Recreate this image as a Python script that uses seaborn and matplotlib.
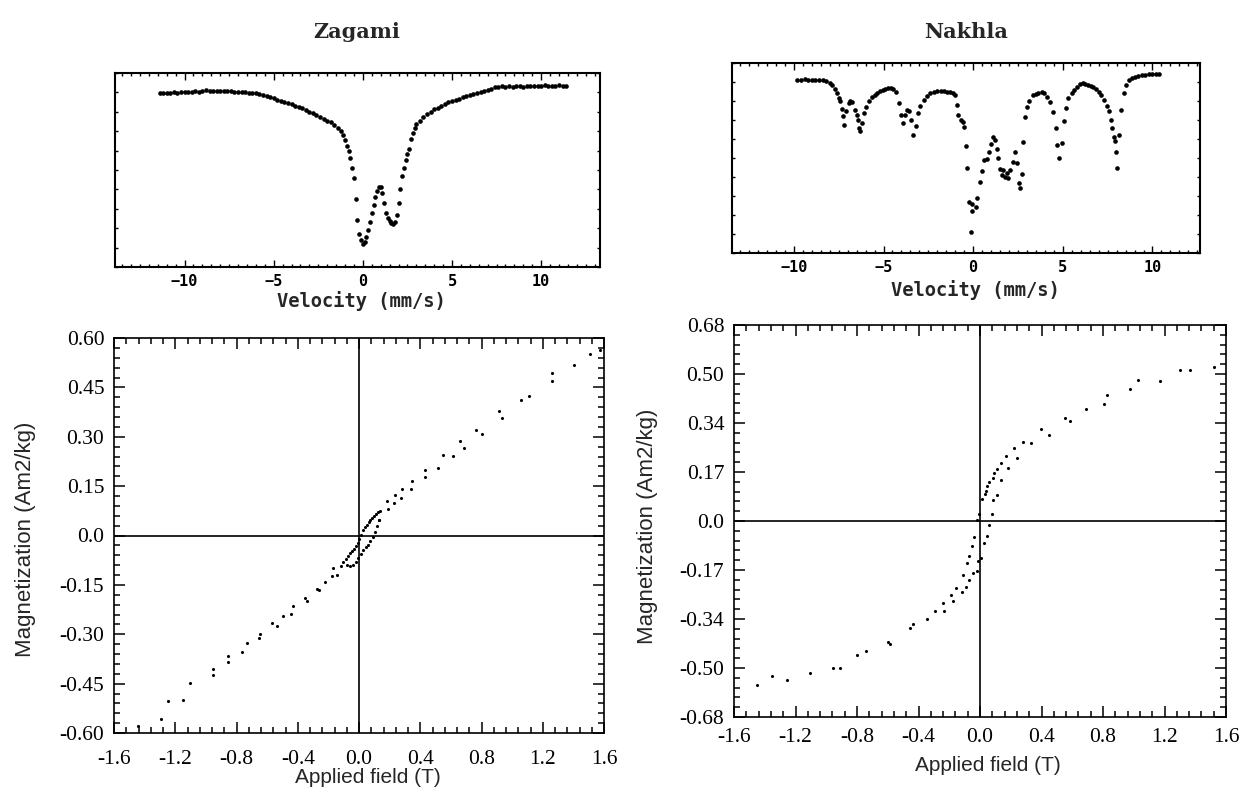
import numpy as np
import pandas as pd
import matplotlib
matplotlib.use("Agg")
import matplotlib.pyplot as plt
import seaborn as sns
from matplotlib.ticker import MultipleLocator, AutoMinorLocator, FixedLocator, FixedFormatter

# Mossbauer spectra (velocity mm/s, relative transmission in % of panel height)
zagami_spectrum = [
    (-11.4, 89.5), (-11.2, 89.8), (-11.0, 89.6), (-10.8, 89.9), (-10.6, 90.0), (-10.4, 89.7),
    (-10.2, 90.1), (-10.0, 90.2), (-9.8, 90.0), (-9.6, 90.3), (-9.4, 90.6), (-9.2, 90.4),
    (-9.0, 90.8), (-8.8, 91.0), (-8.6, 90.7), (-8.4, 90.9), (-8.2, 90.6), (-8.0, 90.8),
    (-7.8, 90.7), (-7.6, 90.5), (-7.4, 90.6), (-7.2, 90.4), (-7.0, 90.3), (-6.8, 90.2),
    (-6.6, 90.0), (-6.4, 89.9), (-6.2, 89.6), (-6.0, 89.5), (-5.8, 89.0), (-5.6, 88.6),
    (-5.4, 88.0), (-5.2, 87.5), (-5.0, 87.0), (-4.8, 86.2), (-4.6, 85.6), (-4.4, 85.0),
    (-4.2, 84.4), (-4.0, 84.0), (-3.8, 83.2), (-3.6, 82.6), (-3.4, 81.8), (-3.2, 81.0),
    (-3.0, 80.0), (-2.8, 79.2), (-2.6, 78.4), (-2.4, 77.5), (-2.2, 76.4), (-2.0, 75.4),
    (-1.8, 74.6), (-1.6, 73.2), (-1.4, 71.8),
    (-1.2, 70.0), (-1.1, 68.0), (-1.0, 65.5), (-0.9, 62.5), (-0.8, 60.0), (-0.7, 56.0),
    (-0.6, 51.0), (-0.5, 46.0), (-0.4, 35.0), (-0.3, 24.0), (-0.2, 17.0), (-0.1, 13.8),
    (0.0, 11.7), (0.1, 13.0), (0.2, 15.5), (0.3, 19.0), (0.4, 23.0), (0.5, 27.6),
    (0.6, 32.0), (0.7, 36.0), (0.8, 39.0), (0.9, 41.0), (1.0, 41.4), (1.1, 38.0),
    (1.2, 33.0), (1.3, 28.0), (1.4, 25.0), (1.5, 23.5), (1.6, 22.5), (1.7, 22.3),
    (1.8, 23.0), (1.9, 27.0), (2.0, 33.0), (2.1, 40.0), (2.2, 47.0), (2.3, 51.0),
    (2.4, 55.0), (2.5, 58.0), (2.6, 61.0), (2.7, 66.0), (2.8, 69.0), (2.9, 71.5),
    (3.0, 73.5),
    (3.2, 75.5), (3.4, 77.2), (3.6, 78.8), (3.8, 80.0), (4.0, 81.2), (4.2, 82.0),
    (4.4, 83.0), (4.6, 84.0), (4.8, 84.8), (5.0, 85.4), (5.2, 86.2), (5.4, 86.8),
    (5.6, 87.4), (5.8, 88.0), (6.0, 88.6), (6.2, 89.2), (6.4, 89.6), (6.6, 90.2),
    (6.8, 90.8), (7.0, 91.4), (7.2, 92.0), (7.4, 92.6), (7.6, 93.0), (7.8, 93.3),
    (8.0, 93.0), (8.2, 93.2), (8.4, 93.0), (8.6, 93.1), (8.8, 93.3), (9.0, 93.0),
    (9.2, 93.4), (9.4, 93.2), (9.6, 93.5), (9.8, 93.3), (10.0, 93.4), (10.2, 93.6),
    (10.4, 93.4), (10.6, 93.5), (10.8, 93.4), (11.0, 93.6), (11.2, 93.5), (11.4, 93.4),
]

nakhla_spectrum = [
    (-9.8, 91.0), (-9.6, 91.3), (-9.4, 91.4), (-9.2, 91.2), (-9.0, 91.3), (-8.8, 91.1),
    (-8.6, 91.0), (-8.4, 90.9), (-8.2, 90.4), (-8.0, 89.6), (-7.85, 88.6), (-7.7, 86.5),
    (-7.6, 84.2), (-7.5, 81.5), (-7.4, 79.8), (-7.3, 76.0), (-7.25, 72.0), (-7.2, 67.5),
    (-7.1, 74.6), (-6.95, 79.0), (-6.85, 80.2), (-6.75, 79.3), (-6.6, 75.4), (-6.5, 72.5),
    (-6.45, 70.0), (-6.35, 66.0), (-6.3, 64.0), (-6.2, 68.4), (-6.07, 73.7), (-5.95, 77.0),
    (-5.8, 79.8), (-5.65, 82.0), (-5.5, 83.3), (-5.35, 84.2), (-5.2, 85.3), (-5.05, 86.0),
    (-4.9, 86.5), (-4.75, 86.8), (-4.6, 86.8), (-4.45, 86.2), (-4.3, 85.0), (-4.15, 79.0),
    (-4.0, 72.8), (-3.9, 68.4), (-3.8, 72.5), (-3.7, 75.4), (-3.6, 74.6), (-3.45, 70.0),
    (-3.35, 62.3), (-3.2, 66.7), (-3.1, 73.7), (-2.95, 77.5), (-2.75, 80.7), (-2.6, 82.6),
    (-2.4, 84.0), (-2.2, 85.0), (-2.0, 85.4), (-1.8, 85.5), (-1.6, 85.2), (-1.45, 85.0),
    (-1.3, 84.5), (-1.15, 84.0), (-1.0, 83.3), (-0.91, 77.9), (-0.82, 72.6), (-0.69, 70.0),
    (-0.54, 69.1), (-0.50, 66.2), (-0.39, 56.5), (-0.35, 44.6), (-0.26, 27.0), (-0.13, 10.9),
    (-0.07, 25.8), (-0.04, 22.3), (0.17, 24.4), (0.21, 28.8), (0.39, 37.5), (0.48, 43.3),
    (0.63, 48.9), (0.76, 49.3), (0.91, 53.3), (0.99, 57.4), (1.13, 61.2), (1.23, 59.5),
    (1.35, 54.6), (1.41, 49.8), (1.50, 44.1), (1.60, 41.1), (1.69, 43.7), (1.78, 40.2),
    (1.88, 42.0), (1.97, 39.3), (2.06, 43.7), (2.21, 48.1), (2.34, 53.3), (2.47, 47.2),
    (2.53, 37.0), (2.62, 34.4), (2.71, 41.6), (2.80, 58.6), (2.90, 71.7), (2.99, 77.0),
    (3.14, 80.2), (3.36, 83.2), (3.50, 83.8), (3.64, 84.1), (3.83, 84.9), (3.97, 84.0),
    (4.11, 82.3), (4.29, 79.6), (4.47, 74.4), (4.62, 65.6), (4.70, 56.8), (4.81, 49.8),
    (4.94, 58.1), (5.07, 69.6), (5.18, 76.2), (5.31, 81.4), (5.50, 84.1), (5.65, 85.8),
    (5.78, 87.5), (5.95, 88.8), (6.10, 89.3), (6.25, 89.0), (6.40, 88.6), (6.55, 88.0),
    (6.70, 87.2), (6.85, 86.3), (7.00, 85.0), (7.15, 83.0), (7.30, 80.7), (7.45, 77.5),
    (7.58, 74.6), (7.68, 70.0), (7.77, 65.8), (7.85, 61.0), (7.90, 58.8), (7.97, 53.0),
    (8.04, 44.7), (8.13, 62.3), (8.27, 75.4), (8.40, 84.2), (8.55, 88.5), (8.70, 90.8),
    (8.85, 92.0), (9.00, 92.6), (9.20, 93.2), (9.40, 93.5), (9.60, 93.8), (9.80, 94.0),
    (10.0, 94.0), (10.2, 94.2), (10.35, 94.2),
]

# hysteresis loops (applied field T, magnetization Am2/kg)
zagami_loop = [
    (1.573, 0.565), (1.508, 0.552), (1.405, 0.519), (1.258, 0.494), (1.258, 0.468),
    (1.109, 0.425), (1.057, 0.413), (0.915, 0.377), (0.933, 0.357), (0.763, 0.322),
    (0.802, 0.309), (0.660, 0.288), (0.686, 0.267), (0.551, 0.246), (0.612, 0.243),
    (0.433, 0.199), (0.514, 0.206), (0.433, 0.178), (0.346, 0.167), (0.338, 0.140),
    (0.283, 0.142), (0.275, 0.114), (0.235, 0.123), (0.231, 0.098), (0.181, 0.104),
    (0.188, 0.081), (0.133, 0.046),
    (0.137, 0.073), (0.125, 0.070), (0.112, 0.066), (0.100, 0.060), (0.088, 0.053),
    (0.075, 0.046), (0.063, 0.040), (0.050, 0.033), (0.037, 0.025), (0.024, 0.016),
    (0.010, 0.002), (0.000, -0.012), (-0.005, -0.023), (-0.020, -0.031), (-0.035, -0.040),
    (-0.048, -0.047), (-0.059, -0.053), (-0.070, -0.062), (-0.085, -0.070),
    (0.131, 0.048), (0.118, 0.030), (0.105, 0.012), (0.090, -0.005), (0.075, -0.018),
    (0.060, -0.028), (0.045, -0.036), (0.028, -0.043), (0.012, -0.055), (-0.005, -0.068),
    (-0.020, -0.080), (-0.037, -0.089), (-0.060, -0.092), (-0.077, -0.089),
    (-0.102, -0.079), (-0.116, -0.094), (-0.142, -0.119), (-0.167, -0.099), (-0.178, -0.124),
    (-0.222, -0.140), (-0.259, -0.167), (-0.276, -0.163), (-0.338, -0.200), (-0.353, -0.190),
    (-0.429, -0.215), (-0.444, -0.238), (-0.495, -0.246), (-0.538, -0.276), (-0.571, -0.266),
    (-0.647, -0.300), (-0.652, -0.310), (-0.734, -0.327), (-0.767, -0.354), (-0.854, -0.367),
    (-0.854, -0.383), (-0.952, -0.406), (-0.952, -0.423), (-1.105, -0.448), (-1.148, -0.499),
    (-1.246, -0.504), (-1.294, -0.557), (-1.442, -0.578),
]

nakhla_loop = [
    (1.522, 0.535), (1.366, 0.524), (1.301, 0.524), (1.171, 0.487), (1.028, 0.489),
    (0.976, 0.457), (0.826, 0.437), (0.806, 0.406), (0.687, 0.387), (0.553, 0.359),
    (0.585, 0.348), (0.397, 0.318), (0.451, 0.299), (0.282, 0.275), (0.332, 0.270),
    (0.223, 0.254), (0.169, 0.224), (0.241, 0.219), (0.134, 0.200), (0.184, 0.183),
    (0.113, 0.179), (0.091, 0.168), (0.082, 0.149), (0.139, 0.142), (0.061, 0.136),
    (0.046, 0.122), (0.039, 0.105), (0.030, 0.093), (0.108, 0.090), (0.087, 0.072),
    (0.015, 0.075), (-0.005, 0.024), (0.076, 0.023), (-0.018, 0.003), (0.057, -0.015),
    (0.043, -0.052), (-0.039, -0.057), (0.026, -0.078), (-0.054, -0.086), (-0.069, -0.122),
    (0.004, -0.127), (-0.083, -0.144), (-0.011, -0.140), (-0.021, -0.173), (-0.044, -0.180),
    (-0.113, -0.188), (-0.070, -0.203), (-0.093, -0.229), (-0.156, -0.232), (-0.115, -0.248),
    (-0.189, -0.258), (-0.173, -0.278), (-0.243, -0.284), (-0.234, -0.313), (-0.293, -0.312),
    (-0.347, -0.339), (-0.438, -0.359), (-0.455, -0.371), (-0.585, -0.425), (-0.600, -0.420),
    (-0.743, -0.451), (-0.798, -0.464), (-0.911, -0.510), (-0.958, -0.510), (-1.106, -0.527),
    (-1.257, -0.550), (-1.355, -0.539), (-1.452, -0.570),
]

field_ticks = [-1.6, -1.2, -0.8, -0.4, 0.0, 0.4, 0.8, 1.2, 1.6]
field_labels = ['-1.6', '-1.2', '-0.8', '-0.4', '0.0', '0.4', '0.8', '1.2', '1.6']
zag_mag_ticks = [-0.60, -0.45, -0.30, -0.15, 0.0, 0.15, 0.30, 0.45, 0.60]
zag_mag_labels = ['-0.60', '-0.45', '-0.30', '-0.15', '0.0', '0.15', '0.30', '0.45', '0.60']
nak_mag_ticks = [-0.68, -0.51, -0.34, -0.17, 0.0, 0.17, 0.34, 0.51, 0.68]
nak_mag_labels = ['-0.68', '-0.50', '-0.34', '-0.17', '0.0', '0.17', '0.34', '0.50', '0.68']

zag_sp = pd.DataFrame(zagami_spectrum, columns=['velocity', 'counts'])
nak_sp = pd.DataFrame(nakhla_spectrum, columns=['velocity', 'counts'])
zag_hy = pd.DataFrame(zagami_loop, columns=['field', 'mag'])
nak_hy = pd.DataFrame(nakhla_loop, columns=['field', 'mag'])

sns.set_style("ticks")
plt.rcParams['font.family'] = ['DejaVu Sans']
plt.rcParams['axes.edgecolor'] = 'black'
plt.rcParams['xtick.color'] = 'black'
plt.rcParams['ytick.color'] = 'black'

W, H = 1249, 795
fig = plt.figure(figsize=(W / 100, H / 100), dpi=100)


def rect(x0, y0, x1, y1):
    return [x0 / W, 1 - y1 / H, (x1 - x0) / W, (y1 - y0) / H]


ax_zs = fig.add_axes(rect(115, 73, 600, 267))
ax_ns = fig.add_axes(rect(732, 63, 1200, 253))
ax_zh = fig.add_axes(rect(114, 338, 604, 733))
ax_nh = fig.add_axes(rect(734, 325, 1226, 717))

mono = {'family': 'DejaVu Sans Mono', 'weight': 'bold'}

# --- Mossbauer panels
for ax, df, xlim, lab_xy in [(ax_zs, zag_sp, (-13.9, 13.3), (0.507, -0.125)),
                             (ax_ns, nak_sp, (-13.45, 12.65), (0.519, -0.14))]:
    sns.scatterplot(data=df, x='velocity', y='counts', ax=ax, color='black',
                    s=11, linewidth=0, edgecolor=None)
    ax.set_xlim(*xlim)
    ax.set_ylim(0, 100)
    ax.xaxis.set_major_locator(MultipleLocator(5))
    ax.xaxis.set_minor_locator(MultipleLocator(0.5))
    ax.yaxis.set_major_locator(FixedLocator([]))
    ax.yaxis.set_minor_locator(MultipleLocator(10))
    ax.tick_params(which='both', direction='in', top=True, right=True, width=1.0)
    ax.tick_params(which='major', length=5, pad=5, labelsize=11)
    ax.tick_params(which='minor', length=2.5)
    for t in ax.get_xticklabels():
        t.set_fontfamily('DejaVu Sans Mono')
        t.set_fontweight('bold')
    ax.set_xlabel('Velocity (mm/s)', fontsize=13.5, **mono)
    ax.xaxis.set_label_coords(*lab_xy)
    ax.set_ylabel('')
    for sp in ax.spines.values():
        sp.set_linewidth(1.5)

fig.text(357 / W, 1 - 38 / H, 'Zagami', ha='center', va='baseline',
         fontsize=15, fontweight='bold', family='DejaVu Serif')
fig.text(966 / W, 1 - 38 / H, 'Nakhla', ha='center', va='baseline',
         fontsize=15, fontweight='bold', family='DejaVu Serif')

# --- hysteresis panels
for ax, df, yt, yl, ylim, xpad, xl_xy, yl_xy in [
        (ax_zh, zag_hy, zag_mag_ticks, zag_mag_labels, (-0.6, 0.6), 12, (0.518, -0.088), (-0.16, 0.49)),
        (ax_nh, nak_hy, nak_mag_ticks, nak_mag_labels, (-0.68, 0.68), 8, (0.516, -0.1), (-0.154, 0.487))]:
    ax.axhline(0, color='black', lw=1.2, zorder=1)
    ax.axvline(0, color='black', lw=1.2, zorder=1)
    sns.scatterplot(data=df, x='field', y='mag', ax=ax, color='black',
                    s=5, linewidth=0, edgecolor=None, zorder=3)
    ax.set_xlim(-1.6, 1.6)
    ax.set_ylim(*ylim)
    ax.xaxis.set_major_locator(FixedLocator(field_ticks))
    ax.xaxis.set_major_formatter(FixedFormatter(field_labels))
    ax.yaxis.set_major_locator(FixedLocator(yt))
    ax.yaxis.set_major_formatter(FixedFormatter(yl))
    ax.xaxis.set_minor_locator(AutoMinorLocator(5))
    ax.yaxis.set_minor_locator(AutoMinorLocator(5))
    ax.tick_params(which='both', direction='in', top=True, right=True, width=1.1)
    ax.tick_params(which='major', length=8, labelsize=15.5)
    ax.tick_params(which='minor', length=4)
    ax.tick_params(axis='x', which='major', pad=xpad)
    ax.tick_params(axis='y', which='major', pad=7)
    for t in ax.get_xticklabels() + ax.get_yticklabels():
        t.set_fontfamily('Liberation Serif')
    ax.set_xlabel('Applied field (T)', fontsize=15, family='Liberation Sans')
    ax.set_ylabel('Magnetization (Am2/kg)', fontsize=16, family='Liberation Sans')
    ax.xaxis.set_label_coords(*xl_xy)
    ax.yaxis.set_label_coords(*yl_xy)
    for sp in ax.spines.values():
        sp.set_linewidth(1.2)

fig.savefig('out.png', dpi=100, facecolor='white')
